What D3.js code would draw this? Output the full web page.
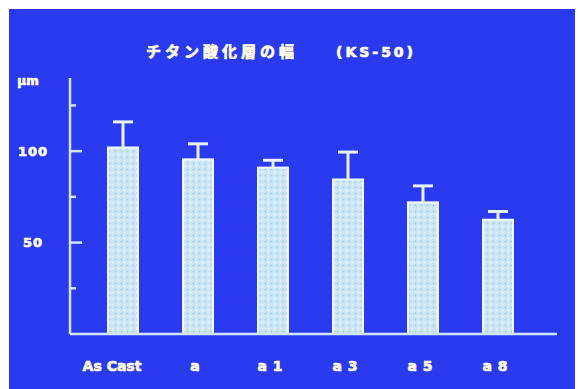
<!DOCTYPE html>
<html><head><meta charset="utf-8">
<script src="https://cdn.jsdelivr.net/npm/d3@7/dist/d3.min.js"></script>
<style>html,body{margin:0;padding:0;background:#fff;}svg{display:block;}</style>
</head><body>
<script>
const categories = ["As Cast", "a", "a1", "a3", "a5", "a8"];
const values = [102, 95.5, 91, 84.5, 72, 62.5];
const errors = [14, 8.5, 4, 15, 9, 4.5];
const yTicks = [25, 50, 75, 100, 125];
const yLabels = [50, 100];
const title = "チタン酸化層の幅";
const subtitle = "(KS-50)";
const unit = "μm";

const W = 578, H = 389;
const svg = d3.select("body").append("svg").attr("width", W).attr("height", H);
svg.append("rect").attr("x", 0).attr("y", 0).attr("width", W).attr("height", H).attr("fill", "#ffffff");
svg.append("rect").attr("x", 9).attr("y", 9).attr("width", W - 12).attr("height", H - 9).attr("fill", "#2a3aee");

const defs = svg.append("defs");
const pat = defs.append("pattern").attr("id", "stip").attr("patternUnits", "userSpaceOnUse")
  .attr("width", 6).attr("height", 6);
pat.append("rect").attr("width", 6).attr("height", 6).attr("fill", "#cce6f6");
pat.append("circle").attr("cx", 1.5).attr("cy", 1.5).attr("r", 0.9).attr("fill", "#a6cae8");
pat.append("circle").attr("cx", 4.5).attr("cy", 4.5).attr("r", 0.9).attr("fill", "#eef8fd");

const x = d3.scaleBand().domain(categories).range([85.5, 535.5]).paddingInner(0.6).paddingOuter(0.3);
const y = d3.scaleLinear().domain([0, 140]).range([334, 78]);

const lineCol = "#cfe6fa";
const textCol = "#fffbe0";

// bars
svg.append("g").selectAll("rect").data(categories).join("rect")
  .attr("x", d => x(d)).attr("width", x.bandwidth())
  .attr("y", (d, i) => y(values[i])).attr("height", (d, i) => y(0) - y(values[i]))
  .attr("fill", "url(#stip)").attr("stroke", "#f0f8ff").attr("stroke-width", 2);

// error bars
const eg = svg.append("g").attr("stroke", "#e6f2fc").attr("stroke-width", 3);
categories.forEach((c, i) => {
  const cx = x(c) + x.bandwidth() / 2;
  eg.append("line").attr("x1", cx).attr("x2", cx).attr("y1", y(values[i])).attr("y2", y(values[i] + errors[i]));
  eg.append("line").attr("x1", cx - 10).attr("x2", cx + 10).attr("y1", y(values[i] + errors[i])).attr("y2", y(values[i] + errors[i]));
});

// axes
const ax = svg.append("g").attr("stroke", lineCol).attr("stroke-width", 2.5).attr("fill", "none");
ax.append("line").attr("x1", 70).attr("x2", 70).attr("y1", y(140)).attr("y2", y(0));
ax.append("line").attr("x1", 70).attr("x2", 557).attr("y1", y(0)).attr("y2", y(0));
ax.selectAll("line.tick").data(yTicks).join("line").attr("class", "tick")
  .attr("x1", 70).attr("x2", d => yLabels.includes(d) ? 82 : 76)
  .attr("y1", d => y(d)).attr("y2", d => y(d));

function boldText(sel) {
  return sel.attr("fill", textCol).attr("stroke", textCol).attr("stroke-width", 0.7)
    .attr("font-weight", "bold");
}

// y labels
boldText(svg.append("g").selectAll("text").data(yLabels).join("text")
  .attr("x", 33).attr("y", d => y(d)).attr("dy", "0.36em").attr("text-anchor", "middle")
  .attr("font-family", "DejaVu Sans").attr("font-size", 13).attr("letter-spacing", 1).text(d => d));

boldText(svg.append("text").attr("x", 28).attr("y", 85).attr("text-anchor", "middle")
  .attr("font-family", "DejaVu Sans").attr("font-size", 12).text(unit));

// x labels
boldText(svg.append("g").selectAll("text").data(categories).join("text")
  .attr("x", d => x(d) + x.bandwidth() / 2 - (d === "As Cast" ? 11 : 0)).attr("y", 371)
  .attr("text-anchor", "middle")
  .attr("font-family", "DejaVu Sans").attr("font-size", 14)
  .attr("letter-spacing", d => d === "As Cast" ? 0 : 6).text(d => d));

// title
boldText(svg.append("text").attr("x", 222).attr("y", 57).attr("text-anchor", "middle")
  .attr("font-family", "Noto Sans CJK JP").attr("font-size", 15).attr("letter-spacing", 4).text(title));
boldText(svg.append("text").attr("x", 376).attr("y", 57).attr("text-anchor", "middle")
  .attr("font-family", "DejaVu Sans").attr("font-size", 14).attr("letter-spacing", 3).text(subtitle));
</script>
</body></html>
